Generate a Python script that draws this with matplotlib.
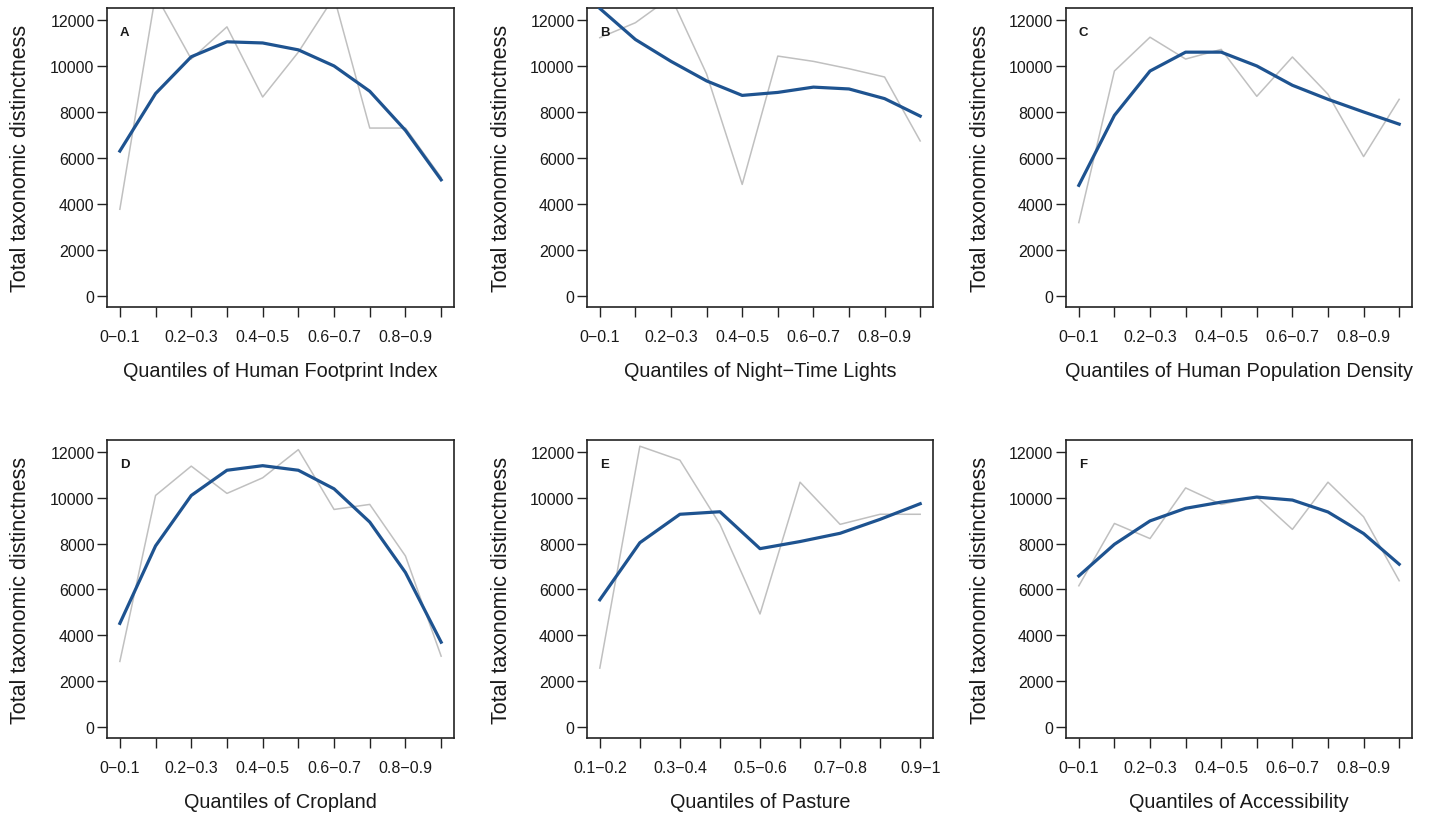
import numpy as np
import matplotlib
matplotlib.use('Agg')
import matplotlib.pyplot as plt

plt.rcParams['font.family'] = ['Liberation Sans', 'DejaVu Sans']

# quantile labels
q10_labels = ['0\u22120.1', '0.1\u22120.2', '0.2\u22120.3', '0.3\u22120.4', '0.4\u22120.5',
              '0.5\u22120.6', '0.6\u22120.7', '0.7\u22120.8', '0.8\u22120.9', '0.9\u22121']
q9_labels = q10_labels[1:]

# raw values (grey) and fitted curve (blue) per panel
hfp_raw = [3770, 13100, 10300, 11700, 8650, 10600, 13000, 7300, 7300, 5150]
hfp_fit = [6300, 8800, 10400, 11050, 11000, 10700, 10000, 8900, 7200, 5050]

ntl_raw = [11230, 11880, 13000, 9650, 4850, 10430, 10200, 9880, 9520, 6740]
ntl_fit = [12500, 11150, 10200, 9350, 8720, 8850, 9080, 9000, 8580, 7820]

pop_raw = [3190, 9780, 11250, 10300, 10720, 8680, 10390, 8770, 6060, 8550]
pop_fit = [4810, 7850, 9780, 10600, 10600, 10000, 9160, 8550, 8000, 7470]

crop_raw = [2860, 10100, 11380, 10190, 10870, 12100, 9490, 9710, 7460, 3090]
crop_fit = [4520, 7900, 10100, 11200, 11400, 11200, 10390, 8940, 6740, 3700]

past_raw = [2570, 12250, 11640, 8840, 4930, 10680, 8840, 9280, 9280]
past_fit = [5550, 8040, 9280, 9390, 7780, 8090, 8450, 9060, 9740]

acc_raw = [6160, 8880, 8220, 10430, 9710, 10040, 8620, 10680, 9170, 6380]
acc_fit = [6590, 7970, 8990, 9540, 9810, 10030, 9900, 9380, 8440, 7100]

panels = [
    ('A', 'Quantiles of Human Footprint Index', q10_labels, hfp_raw, hfp_fit),
    ('B', 'Quantiles of Night\u2212Time Lights', q10_labels, ntl_raw, ntl_fit),
    ('C', 'Quantiles of Human Population Density', q10_labels, pop_raw, pop_fit),
    ('D', 'Quantiles of Cropland', q10_labels, crop_raw, crop_fit),
    ('E', 'Quantiles of Pasture', q9_labels, past_raw, past_fit),
    ('F', 'Quantiles of Accessibility', q10_labels, acc_raw, acc_fit),
]

W, H = 1431, 820
lefts = [107, 587, 1066]
widths = [347, 346, 346]
tops = [9, 441]
heights = [299, 298]

fig = plt.figure(figsize=(W / 100, H / 100), dpi=100)
text_col = '#1a1a1a'

for i, (letter, xlab, labels, raw, fit) in enumerate(panels):
    r, c = divmod(i, 3)
    rect = [lefts[c] / W, 1 - (tops[r] + heights[r]) / H, widths[c] / W, heights[r] / H]
    ax = fig.add_axes(rect)
    x = np.arange(1, len(raw) + 1)
    ax.plot(x, raw, color='#c0c0c0', lw=1.1, zorder=2)
    ax.plot(x, fit, color='#1e5390', lw=2.3, solid_joinstyle='round', zorder=3)

    n = len(raw)
    ext = 0.04 * (n - 1)
    ax.set_xlim(1 - ext, n + ext)
    ax.set_ylim(-480, 12520)
    ax.set_xticks(x)
    ax.set_xticklabels([lab if k % 2 == 0 else '' for k, lab in enumerate(labels)])
    ax.set_yticks(np.arange(0, 12001, 2000))
    ax.tick_params(direction='out', length=7, width=1, color='#222222',
                   labelsize=11.5, labelcolor=text_col)
    ax.tick_params(axis='x', pad=9)
    ax.tick_params(axis='y', pad=2)
    for s in ax.spines.values():
        s.set_linewidth(1.2)
        s.set_color('#222222')

    ax.set_ylabel('Total taxonomic distinctness', fontsize=15.5, color=text_col)
    ax.set_xlabel(xlab, fontsize=14.3, color=text_col)
    ax.yaxis.set_label_coords(-0.218, 0.5)
    ax.xaxis.set_label_coords(0.5, -0.18)
    ax.text(0.037, 0.92, letter, transform=ax.transAxes, fontsize=9.5,
            fontweight='bold', color=text_col, ha='left', va='center')

fig.savefig('out.png', dpi=100)
